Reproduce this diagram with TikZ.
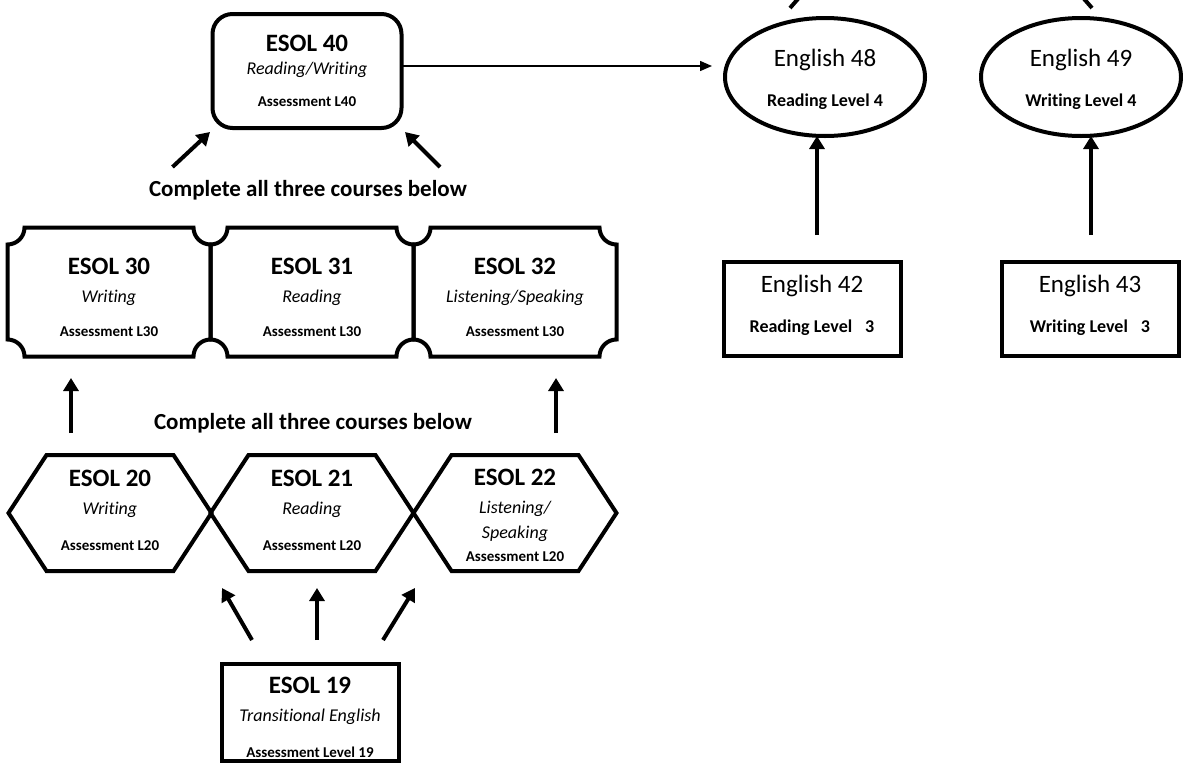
\documentclass[tikz,border=0pt]{standalone}
\usepackage{fontspec}
\setmainfont[Ligatures=NoCommon]{Carlito}
\usetikzlibrary{shapes.geometric,arrows.meta}

\newcommand{\crsttl}{\fontsize{25}{30}\selectfont\bfseries}
\newcommand{\crsttlr}{\fontsize{25}{30}\selectfont}
\newcommand{\crssub}{\fontsize{18}{22}\selectfont\itshape}
\newcommand{\crsasm}{\fontsize{15}{18}\selectfont\bfseries}
\newcommand{\crslvl}{\fontsize{18}{22}\selectfont\bfseries}
\newcommand{\crsup}[1]{\rule{0pt}{#1}}
\newcommand{\crsdown}[1]{\rule[-#1]{0pt}{#1}}

\tikzstyle{course}=[inner sep=0pt,outer sep=0pt,align=center,font=\fontsize{15}{28}\selectfont]
\tikzstyle{roundbox}=[course,draw,line width=4pt,rounded corners=20pt,minimum width=189pt,minimum height=114pt]
\tikzstyle{ovalbox}=[course,draw,ellipse,line width=4pt,minimum width=200pt,minimum height=118pt]
\tikzstyle{plainbox}=[course,draw,line width=4pt,minimum width=177pt,minimum height=94pt]
\tikzstyle{ticket}=[course,minimum width=203pt,minimum height=129pt]
\tikzstyle{hexa}=[course,minimum width=203pt,minimum height=116pt]
\tikzstyle{outline}=[draw,line width=4pt]
\tikzstyle{edge}=[draw,line width=4pt,-{Triangle[length=13pt,width=15pt]}]
\tikzstyle{thinedge}=[draw,line width=1.5pt,-{Triangle[length=12pt,width=10pt]}]
\tikzstyle{note}=[font=\fontsize{23}{27}\selectfont\bfseries]

\begin{document}
\begin{tikzpicture}[x=1pt,y=1pt]
  \useasboundingbox (0,0) rectangle (1183,-766);
  \clip (0,0) rectangle (1183,-766);
  % First the ESOL courses
  \node[roundbox] (e40) at (307,-71) {{\crsttl ESOL 40}\\[-5pt]{\crssub Reading/Writing}\\[4pt]{\crsasm Assessment L40}};
  \foreach \pos/\name/\code/\topic in {{(109,-292)/e30/ESOL 30/Writing}, {(312,-292)/e31/ESOL 31/Reading}, {(515,-292)/e32/ESOL 32/{Listening/Speaking}}}
        \node[ticket] (\name) at \pos {{\crsup{28pt}\crsttl \code}\\{\crssub \topic}\\[6pt]{\crsasm Assessment L30}};
  \foreach \pos/\name/\code/\topic in {{(110,-513)/e20/ESOL 20/Writing}, {(312,-513)/e21/ESOL 21/Reading}}
        \node[hexa] (\name) at \pos {{\crsttl \code}\\{\crssub \topic}\\[8pt]{\crsasm Assessment L20\crsdown{6pt}}};
  \node[hexa] (e22) at (515,-513) {{\crsup{22pt}\crsttl ESOL 22}\\{\crssub Listening/}\\[-3pt]{\crssub Speaking}\\[-5pt]{\crsasm Assessment L20}};
  \node[plainbox,minimum height=97pt] (e19) at (310,-712) {{\crsup{28pt}\crsttl ESOL 19}\\{\crssub Transitional English}\\[8pt]{\crsasm Assessment Level 19}};
  % Then the English courses
  \foreach \pos/\name/\code/\topic in {{(825,-77)/en48/English 48/Reading Level 4}, {(1081,-77)/en49/English 49/Writing Level 4}}
        \node[ovalbox] (\name) at \pos {{\crsup{22pt}\crsttlr \code}\\[12pt]{\crslvl \topic}};
  \foreach \pos/\name/\code/\topic in {{(812,-309)/en42/English 42/Reading Level\hspace{13pt}3}, {(1090,-309)/en43/English 43/Writing Level\hspace{13pt}3}}
        \node[plainbox] (\name) at \pos {{\crsttlr \code}\\[12pt]{\crslvl \topic\crsdown{11pt}}};
  \node[note] (c40) at (308,-190) {Complete all three courses below};
  \node[note] (c30) at (313,-423) {Complete all three courses below};
  % Outlines of the tickets and hexagons
  \foreach \n in {e30,e31,e32}
        \draw[outline] ([xshift=17pt]\n.north west) -- ([xshift=-17pt]\n.north east)
              arc[start angle=180,end angle=270,radius=17pt] -- ([yshift=17pt]\n.south east)
              arc[start angle=90,end angle=180,radius=17pt] -- ([xshift=17pt]\n.south west)
              arc[start angle=0,end angle=90,radius=17pt] -- ([yshift=-17pt]\n.north west)
              arc[start angle=270,end angle=360,radius=17pt] -- cycle;
  \foreach \n in {e20,e21,e22}
        \draw[outline] (\n.west) -- ([xshift=38pt]\n.north west) -- ([xshift=-38pt]\n.north east) -- (\n.east)
              -- ([xshift=-38pt]\n.south east) -- ([xshift=38pt]\n.south west) -- cycle;
  % Connect the courses with arrows
  \path[thinedge] ([yshift=5pt]e40.east) -- ([yshift=5pt]e40.east -| en48.west) [shorten >=13pt];
  \path[edge] ([shift={(-40pt,-39pt)}]e40.south west) -- ([shift={(-2.5pt,-4pt)}]e40.south west);
  \path[edge] ([shift={(38.5pt,-39pt)}]e40.south east) -- ([shift={(3.5pt,-4pt)}]e40.south east);
  \path[edge] ([shift={(-39pt,22pt)}]e20.north) -- ([shift={(-38pt,-21.5pt)}]e30.south);
  \path[edge] ([shift={(41pt,22pt)}]e22.north) -- ([shift={(41pt,-21.5pt)}]e32.south);
  \path[edge] ([shift={(-58pt,23.5pt)}]e19.north) -- ([shift={(10.5pt,-17pt)}]e20.south east);
  \path[edge] ([shift={(7pt,23.5pt)}]e19.north) -- ([shift={(5pt,-17pt)}]e21.south);
  \path[edge] ([shift={(73pt,23.5pt)}]e19.north) -- ([shift={(1.5pt,-17pt)}]e22.south west);
  \path[edge] ([shift={(5pt,27pt)}]en42.north) -- ([xshift=5pt]en42.north |- en48.south);
  \path[edge] ([shift={(1pt,27pt)}]en43.north) -- ([xshift=1pt]en43.north |- en49.south);
  \draw[line width=4pt] ([shift={(-35pt,10pt)}]en48.north) -- ++(14pt,16pt);
  \draw[line width=4pt] ([shift={(11pt,10pt)}]en49.north) -- ++(-14pt,16pt);
\end{tikzpicture}
\end{document}
